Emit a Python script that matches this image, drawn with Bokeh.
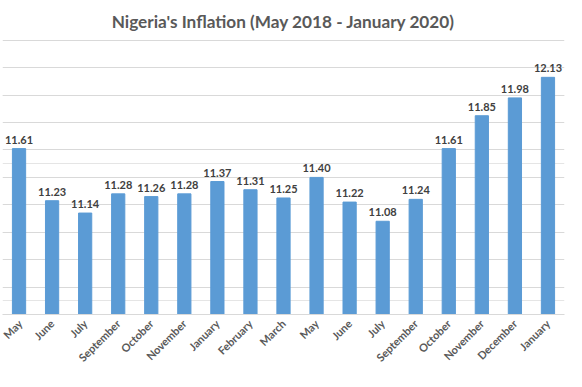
import math
from bokeh.plotting import figure
from bokeh.models import FixedTicker, Grid, ColumnDataSource, Range1d
from bokeh.core.properties import value
from bokeh.embed import file_html
from bokeh.resources import INLINE

title_text = "Nigeria's Inflation (May 2018 - January 2020)"
months = ["May", "June", "July", "September", "October", "November", "January",
          "February", "March", "May", "June", "July", "September", "October",
          "November", "December", "January"]
inflation = [11.61, 11.23, 11.14, 11.28, 11.26, 11.28, 11.37, 11.31, 11.25,
             11.40, 11.22, 11.08, 11.24, 11.61, 11.85, 11.98, 12.13]
y_ticks = [10.4, 10.6, 10.8, 11.0, 11.2, 11.4, 11.6, 11.8, 12.0, 12.2, 12.4]
y_min, y_max = 10.4, 12.4

idx = list(range(len(months)))
src = ColumnDataSource(dict(x=idx, y=inflation, lbl=["%.2f" % v for v in inflation]))

p = figure(width=566, height=371, output_backend="svg", toolbar_location=None,
           x_range=Range1d(-0.5, len(months) - 0.5), y_range=Range1d(y_min, y_max + 0.006),
           y_axis_location=None, title=title_text,
           min_border_left=2, min_border_right=2, min_border_top=38, min_border_bottom=0)
p.outline_line_color = None
p.title.align = "center"
p.title.text_font = "Lato"
p.title.text_font_size = "17.2px"
p.title.text_font_style = "bold"
p.title.text_color = "#595959"
p.title.standoff = 16

p.add_layout(Grid(dimension=1, ticker=FixedTicker(ticks=y_ticks),
                  grid_line_color="#D9D9D9", grid_line_width=1))

p.vbar(x="x", top="y", bottom=y_min, width=0.4, source=src, color="#5B9BD5")
p.text(x="x", y="y", text="lbl", source=src, text_align="center", text_baseline="bottom",
       y_offset=-5, text_font=value("Lato"), text_font_size="11px",
       text_font_style="bold", text_color="#404040")

ax = p.xaxis[0]
ax.ticker = FixedTicker(ticks=idx)
ax.major_label_overrides = {i: m for i, m in zip(idx, months)}
ax.major_label_orientation = math.pi / 4
ax.major_label_text_font = "Lato"
ax.major_label_text_font_size = "11px"
ax.major_label_text_font_style = "bold"
ax.major_label_text_color = "#595959"
ax.major_tick_line_color = None
ax.minor_tick_line_color = None
ax.axis_line_color = "#D9D9D9"
ax.major_label_standoff = 1
p.xgrid.visible = False

open("out.html", "w").write(file_html(p, INLINE))
